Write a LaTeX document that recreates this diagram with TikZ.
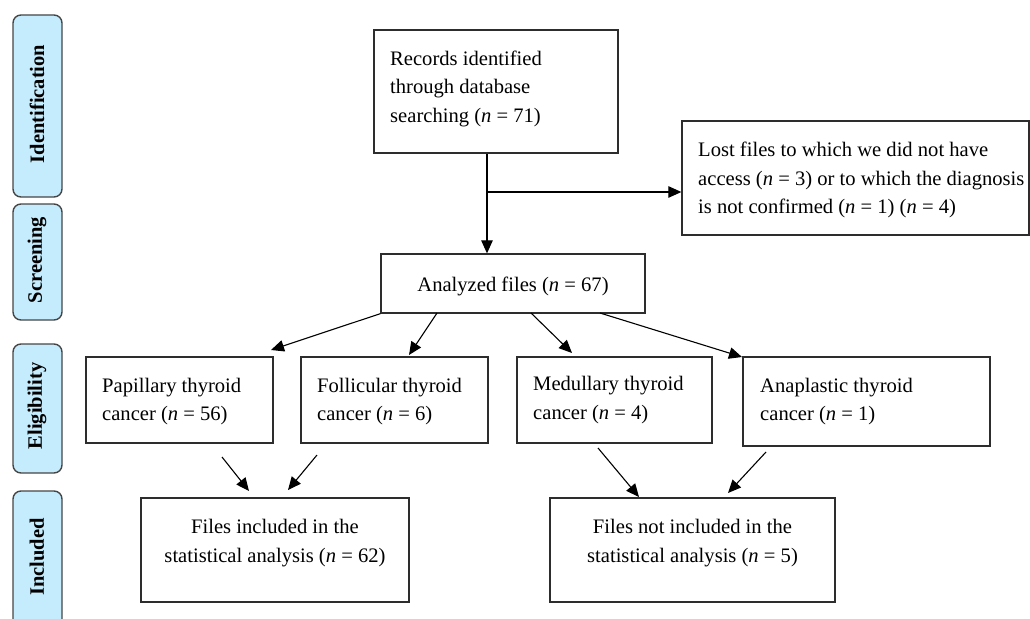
\documentclass[tikz,border=0pt]{standalone}
\usepackage{fontspec}
\setmainfont{Liberation Serif}
\usetikzlibrary{arrows.meta}
\definecolor{sidefill}{RGB}{197,236,253}
\definecolor{lineclr}{RGB}{45,45,45}
\definecolor{sideline}{RGB}{70,70,70}
\begin{document}
\begin{tikzpicture}[x=1pt,y=-1pt,
  box/.style={draw=lineclr,line width=1.3pt,inner sep=0pt,rectangle},
  side/.style={draw=sideline,fill=sidefill,line width=1.4pt,rounded corners=8pt,inner sep=0pt,minimum width=49pt},
  sidetxt/.style={rotate=90,font=\fontsize{20.5}{22}\selectfont\bfseries,inner sep=0pt},
  txt/.style={font=\fontsize{20.6}{28.5}\selectfont,inner sep=0pt,align=left,anchor=west},
  ctxt/.style={font=\fontsize{20.6}{28.5}\selectfont,inner sep=0pt,align=center},
  arr/.style={draw=black,line width=1.1pt,-{Triangle[length=13pt,width=11.5pt]}}]
\useasboundingbox (0,0) rectangle (1030,618);
\clip (0,0) rectangle (1030,618);
% side labels
\node[side,minimum height=182pt] (sid) at (37.5,106) {};
\node[sidetxt] (sidt) at (37,104) {Identification};
\node[side,minimum height=116pt] (sscr) at (37.5,262) {};
\node[sidetxt] (sscrt) at (37,260) {Screening};
\node[side,minimum height=129pt] (selig) at (37.5,408.5) {};
\node[sidetxt] (seligt) at (37,406) {Eligibility};
\node[side,minimum height=137pt] (sinc) at (37.5,559.5) {};
\node[sidetxt] (sinct) at (37,557) {Included};
% boxes
\node[box,minimum width=244pt,minimum height=123pt] (rec) at (496,91.5) {};
\node[txt] (rect) at (390,88.5) {Records identified\\through database\\searching (\textit{n} = 71)};
\node[box,minimum width=347pt,minimum height=114pt] (lost) at (855.5,178) {};
\node[txt] (lostt) at (698,180) {Lost files to which we did not have\\access (\textit{n} = 3) or to which the diagnosis\\is not confirmed (\textit{n} = 1) (\textit{n} = 4)};
\node[box,minimum width=264pt,minimum height=59pt] (ana) at (513,283.5) {};
\node[ctxt] (anat) at (513,286) {Analyzed files (\textit{n} = 67)};
\node[box,minimum width=187pt,minimum height=86pt] (pap) at (179.5,400) {};
\node[txt] (papt) at (102,401.5) {Papillary thyroid\\cancer (\textit{n} = 56)};
\node[box,minimum width=187pt,minimum height=86pt] (fol) at (394.5,400) {};
\node[txt] (folt) at (317,401.5) {Follicular thyroid\\cancer (\textit{n} = 6)};
\node[box,minimum width=195pt,minimum height=86pt] (med) at (614.5,400) {};
\node[txt] (medt) at (533,400) {Medullary thyroid\\cancer (\textit{n} = 4)};
\node[box,minimum width=247pt,minimum height=89pt] (anap) at (866.5,401.5) {};
\node[txt] (anapt) at (760,401.5) {Anaplastic thyroid\\cancer (\textit{n} = 1)};
\node[box,minimum width=268pt,minimum height=104pt] (inc) at (275,550) {};
\node[ctxt] (inct) at (275,543) {Files included in the\\statistical analysis (\textit{n} = 62)};
\node[box,minimum width=285pt,minimum height=104pt] (ninc) at (692.5,550) {};
\node[ctxt] (ninct) at (692.5,543) {Files not included in the\\statistical analysis (\textit{n} = 5)};
% connectors
\coordinate (j) at (487,192);
\draw[arr] (rec.south -| j) -- (ana.north -| j);
\draw[arr] (j) -- (lost.west |- j);
\coordinate (s2) at (437,313); \coordinate (s3) at (531,313); \coordinate (s4) at (600,313);
\coordinate (e1) at (271,350); \coordinate (e2) at (409,355);
\coordinate (e3) at (572,353); \coordinate (e4) at (742,357);
\draw[arr] (ana.south west) -- (e1);
\draw[arr] (s2) -- (e2);
\draw[arr] (s3) -- (e3);
\draw[arr] (s4) -- (e4);
\coordinate (p1) at (222,457); \coordinate (q1) at (249,491);
\coordinate (p2) at (317,455); \coordinate (q2) at (288,490);
\coordinate (p3) at (598,448); \coordinate (q3) at (639,497);
\coordinate (p4) at (766,452); \coordinate (q4) at (728,493);
\draw[arr] (p1) -- (q1);
\draw[arr] (p2) -- (q2);
\draw[arr] (p3) -- (q3);
\draw[arr] (p4) -- (q4);
\end{tikzpicture}
\end{document}
